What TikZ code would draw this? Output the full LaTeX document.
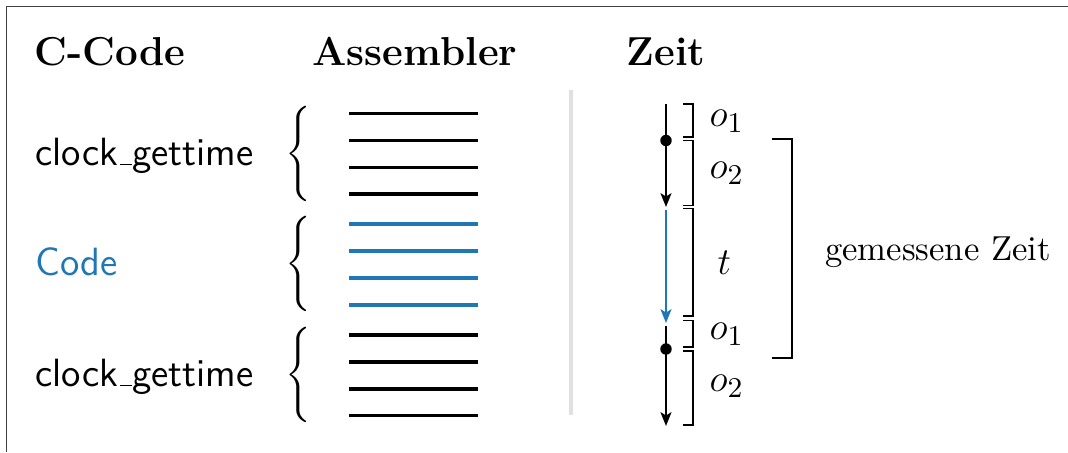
\documentclass[tikz,border=0pt]{standalone}
\usetikzlibrary{arrows.meta}
\definecolor{tabblue}{RGB}{31,119,180}
\newcommand{\usc}{\kern.06em\vbox{\hrule width.3em height .45pt}}
\begin{document}
\begin{tikzpicture}[x=0.31447pt,y=-0.31447pt,
  head/.style={font=\fontsize{12.7}{15}\selectfont\bfseries, anchor=base, inner sep=0},
  fname/.style={font=\fontsize{12.4}{15}\selectfont\sffamily, anchor=base west, inner sep=0},
  asm/.style={line width=1pt},
  tarrow/.style={line width=0.8pt, -{Stealth[length=4.3pt,width=3.4pt,inset=1pt]}},
  bk/.style={line width=0.55pt},
  lbl/.style={anchor=west, font=\fontsize{12.5}{15}\selectfont, inner sep=0},
  dotc/.style={circle, fill, inner sep=0, minimum size=3.6pt},
  brc/.style={inner sep=0},
]
\useasboundingbox (0,0) rectangle (1068,452);
\draw[line width=0.5pt, black!75] (6.5,452) -- (6.5,6.5) -- (1068,6.5);

% headings
\node[head] (hc) at (110,65) {C-Code};
\node[head] (ha) at (415,65) {Assembler};
\node[head] (hz) at (666,65) {Zeit};

% function labels
\node[fname] (f1) at (35,165) {clock\usc gettime};
\node[fname, text=tabblue] (f2) at (35,275) {Code};
\node[fname] (f3) at (35,386) {clock\usc gettime};

% braces
\node[brc] (b1) at (300,153.5) {$\left\{\vcenter{\hbox{\rule{0pt}{29.5pt}}}\right.$};
\node[brc] (b2) at (300,264) {$\left\{\vcenter{\hbox{\rule{0pt}{29.5pt}}}\right.$};
\node[brc] (b3) at (300,375) {$\left\{\vcenter{\hbox{\rule{0pt}{29.5pt}}}\right.$};

% assembler lines
\foreach \y in {113.5,140.5,167.5,194} \draw[asm] (349,\y) -- (478,\y);
\foreach \y in {224,251,278,305} \draw[asm, tabblue] (349,\y) -- (478,\y);
\foreach \y in {335,362,389,415.5} \draw[asm] (349,\y) -- (478,\y);

% separator
\draw[line width=1pt, black!12] (571,90) -- (571,415);

% time arrows
\coordinate (s1) at (666,104);
\coordinate (e1) at (666,207);
\coordinate (s2) at (666,210);
\coordinate (e2) at (666,323);
\coordinate (s3) at (666,326);
\coordinate (e3) at (666,426);
\draw[tarrow] (s1) -- (e1);
\draw[tarrow, tabblue] (s2) -- (e2);
\draw[tarrow] (s3) -- (e3);
\node[dotc] (d1) at (666,140.5) {};
\node[dotc] (d2) at (666,349) {};

% small brackets
\draw[bk] (683,104) -- (693,104) -- (693,137) -- (683,137);
\draw[bk] (683,140.5) -- (693,140.5) -- (693,205.5) -- (683,205.5);
\draw[bk] (683,208.5) -- (693,208.5) -- (693,316) -- (683,316);
\draw[bk] (683,320.5) -- (693,320.5) -- (693,347) -- (683,347);
\draw[bk] (683,351) -- (693,351) -- (693,425) -- (683,425);

% labels
\node[lbl] (l1) at (709,121) {$o_1$};
\node[lbl] (l2) at (709,173) {$o_2$};
\node[lbl] (l3) at (717,263) {$t$};
\node[lbl] (l4) at (709,334) {$o_1$};
\node[lbl] (l5) at (709,386) {$o_2$};

% large bracket
\draw[bk] (772,139) -- (792,139) -- (792,358) -- (772,358);
\node[anchor=base, inner sep=0, font=\fontsize{10.9}{13}\selectfont] (gz) at (938,260) {gemessene Zeit};
\end{tikzpicture}
\end{document}
